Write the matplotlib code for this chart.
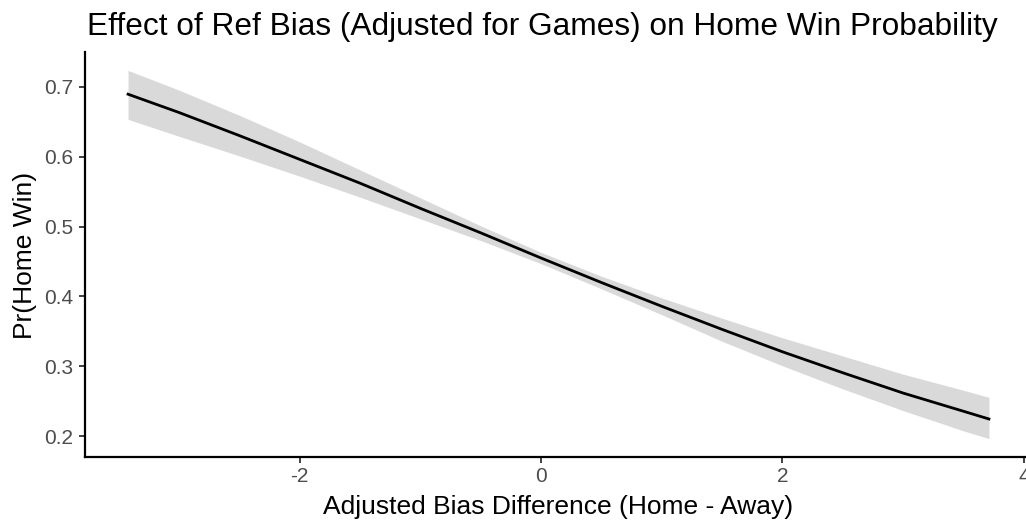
import matplotlib
matplotlib.use("Agg")
import matplotlib.pyplot as plt

plt.rcParams['font.family'] = ['Liberation Sans', 'DejaVu Sans']

# Values
bias_diff = [-3.42, -3.0, -2.5, -2.0, -1.5, -1.0, -0.5, 0.0, 0.5, 1.0, 1.5, 2.0, 2.5, 3.0, 3.5, 3.71]
pr_home_win = [0.689, 0.663, 0.630, 0.596, 0.562, 0.526, 0.491, 0.455, 0.420, 0.386, 0.353, 0.321, 0.291, 0.262, 0.236, 0.225]
ci_upper = [0.723, 0.695, 0.659, 0.621, 0.581, 0.541, 0.501, 0.463, 0.429, 0.398, 0.369, 0.341, 0.315, 0.289, 0.266, 0.256]
ci_lower = [0.653, 0.629, 0.601, 0.572, 0.542, 0.511, 0.480, 0.447, 0.411, 0.374, 0.336, 0.301, 0.268, 0.237, 0.208, 0.197]

x_ticks = [-2, 0, 2, 4]
y_ticks = [0.2, 0.3, 0.4, 0.5, 0.6, 0.7]

title = "Effect of Ref Bias (Adjusted for Games) on Home Win Probability"
xlabel = "Adjusted Bias Difference (Home - Away)"
ylabel = "Pr(Home Win)"

W, H = 1026, 523
fig = plt.figure(figsize=(W / 100, H / 100), dpi=100)
# panel: left 85px, right ~1032px (beyond image), top ~52px, bottom ~457px
ax = fig.add_axes([85 / W, (H - 457) / H, (1032 - 85) / W, (457 - 52) / H])

ax.fill_between(bias_diff, ci_lower, ci_upper, color="#D9D9D9", linewidth=0)
ax.plot(bias_diff, pr_home_win, color="black", linewidth=2.0)

xr = bias_diff[-1] - bias_diff[0]
ax.set_xlim(bias_diff[0] - 0.05 * xr, bias_diff[-1] + 0.05 * xr)
ymin, ymax = min(ci_lower), max(ci_upper)
yr = ymax - ymin
ax.set_ylim(ymin - 0.05 * yr, ymax + 0.05 * yr)

ax.set_xticks(x_ticks)
ax.set_xticklabels([f"{t:d}" for t in x_ticks])
ax.set_yticks(y_ticks)
ax.set_yticklabels([f"{t:.1f}" for t in y_ticks])

for s in ["top", "right"]:
    ax.spines[s].set_visible(False)
for s in ["left", "bottom"]:
    ax.spines[s].set_linewidth(1.6)
    ax.spines[s].set_color("black")

ax.tick_params(axis="both", length=4.3, width=1.3, color="#333333",
               labelcolor="#4D4D4D", labelsize=15)
ax.tick_params(axis="x", pad=3.0)
ax.tick_params(axis="y", pad=4.0)

panel_cx = (85 + 1032) / 2 / W
fig.text(panel_cx, (H - 514) / H, xlabel, fontsize=19, color="black",
         ha="center", va="baseline")
fig.text(25 / W, (H - 255) / H, ylabel, fontsize=19, color="black",
         ha="center", va="center", rotation=90)
fig.text(87 / W, (H - 35) / H, title, fontsize=22.8, color="black",
         ha="left", va="baseline")

fig.savefig("out.png", dpi=100)
